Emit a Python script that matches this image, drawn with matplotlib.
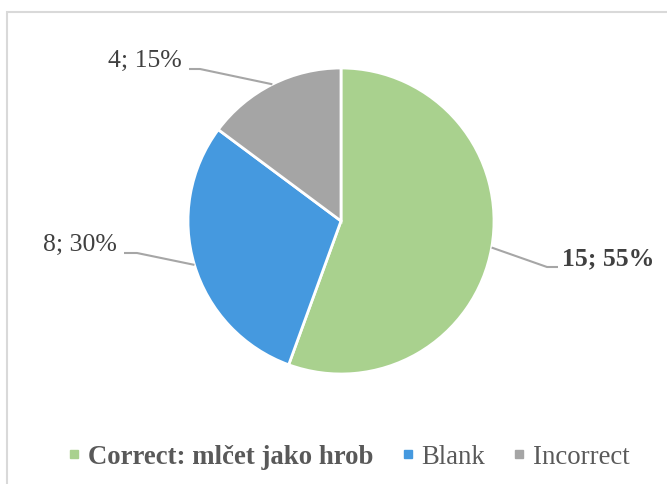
import numpy as np
import matplotlib
matplotlib.use("Agg")
import matplotlib.pyplot as plt
from matplotlib.lines import Line2D
from matplotlib.patches import Rectangle

# dados do gráfico
categorias = ["Correct: mlčet jako hrob", "Blank", "Incorrect"]
valores = [15, 8, 4]
percentuais = [55, 30, 15]
cores = ["#A9D18E", "#4599DF", "#A5A5A5"]

plt.rcParams["font.family"] = ["Liberation Serif", "DejaVu Serif"]

W, H = 667, 484
fig = plt.figure(figsize=(W / 100, H / 100), dpi=100)
ax = fig.add_axes([0, 0, 1, 1])

# centro e raio da pizza em pixels
cx, cy, raio = 341, 221, 153


def px(x, y):
    # pixel (origem no topo) -> coordenadas dos dados
    return (x - cx) / raio, (cy - y) / raio


wedges, _ = ax.pie(valores, colors=cores, startangle=90, counterclock=False,
                   radius=1.0, wedgeprops=dict(edgecolor="white", linewidth=2))

# limites depois do pie (o pie redefine os limites)
ax.set_xlim(-cx / raio, (W - cx) / raio)
ax.set_ylim(-(H - cy) / raio, cy / raio)
ax.set_aspect("equal")
ax.axis("off")

# rótulos: posição do texto, alinhamento, pontos da linha guia (pixels)
rotulos = [
    dict(texto=f"{valores[0]}; {percentuais[0]}%", pos=(562, 259), ha="left",
         peso="bold", guia=[(547, 267), (558, 267)]),
    dict(texto=f"{valores[1]}; {percentuais[1]}%", pos=(117, 245), ha="right",
         peso="normal", guia=[(137, 253), (124, 253)]),
    dict(texto=f"{valores[2]}; {percentuais[2]}%", pos=(182, 61), ha="right",
         peso="normal", guia=[(200, 69), (189, 69)]),
]

for w, r in zip(wedges, rotulos):
    ang = np.deg2rad((w.theta1 + w.theta2) / 2)
    pts = [(np.cos(ang), np.sin(ang))] + [px(*p) for p in r["guia"]]
    xs, ys = zip(*pts)
    ax.plot(xs, ys, color="#A6A6A6", linewidth=1.5, solid_capstyle="butt")
    tx, ty = px(*r["pos"])
    ax.text(tx, ty, r["texto"], ha=r["ha"], va="center", fontsize=18.5,
            fontweight=r["peso"], color="#404040")

# legenda
handles = [Line2D([0], [0], marker="s", linestyle="none", markersize=6,
                  markerfacecolor=c, markeredgecolor=c) for c in cores]
leg = fig.legend(handles, categorias, loc="center", bbox_to_anchor=(0.522, 0.055),
                 ncol=3, frameon=False, fontsize=19.3, handlelength=0.6,
                 handletextpad=0.22, columnspacing=0.97, labelcolor="#595959",
                 borderpad=0, borderaxespad=0)
leg.get_texts()[0].set_fontweight("bold")

# moldura do gráfico
fig.add_artist(Rectangle((7 / W, -0.1), 1.2, (H - 12) / H + 0.1,
                         transform=fig.transFigure, fill=False,
                         edgecolor="#D9D9D9", linewidth=1.5))

fig.savefig("out.png", dpi=100)
